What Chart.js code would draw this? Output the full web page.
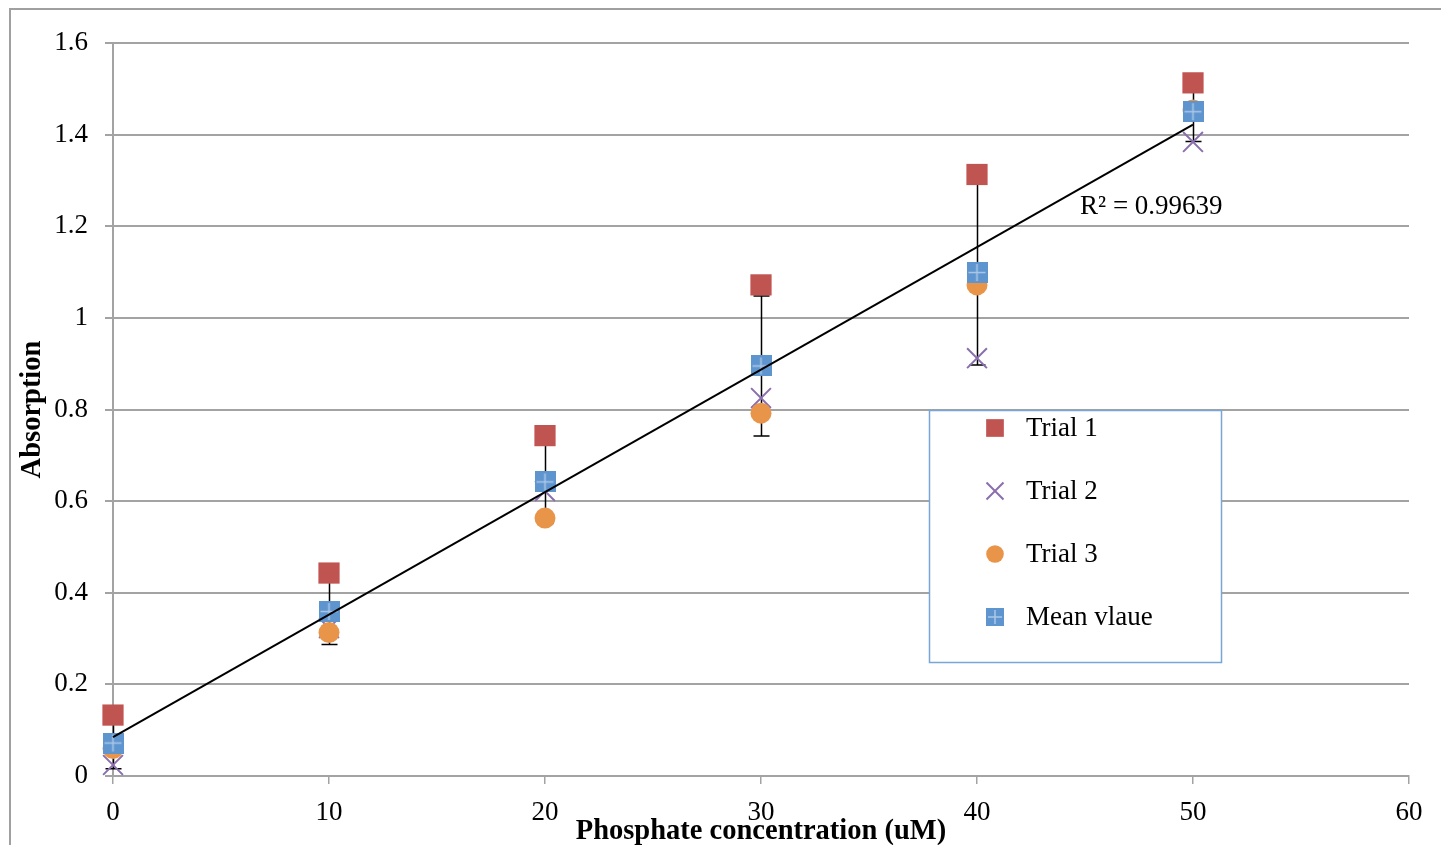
<!DOCTYPE html>
<html>
<head>
<meta charset="utf-8">
<script src="https://cdn.jsdelivr.net/npm/chart.js@4/dist/chart.umd.min.js"></script>
<style>
  html, body { margin: 0; padding: 0; background: #fff; }
  canvas { display: block; }
</style>
</head>
<body>
<canvas id="chart" width="1441" height="845"></canvas>
<script>
// values
const concentrations = [0, 10, 20, 30, 40, 50];
const trial1 = [0.133, 0.443, 0.743, 1.072, 1.313, 1.513];
const trial2 = [0.024, 0.323, 0.622, 0.825, 0.912, 1.384];
const trial3 = [0.060, 0.313, 0.563, 0.792, 1.072, 1.454];
const meanValue = [0.072, 0.359, 0.642, 0.895, 1.099, 1.450];
const meanError = [0.056, 0.072, 0.091, 0.153, 0.202, 0.065];
const trendX = [0, 50];
const trendY = [0.085, 1.422];
const xTickLabels = ["0", "10", "20", "30", "40", "50", "60"];
const yTickLabels = ["0", "0.2", "0.4", "0.6", "0.8", "1", "1.2", "1.4", "1.6"];
const seriesNames = ["Trial 1", "Trial 2", "Trial 3", "Mean vlaue"];
const r2Label = "R\u00b2 = 0.99639";

const FONT = "'Liberation Serif', 'Times New Roman', serif";
const COLORS = { red: "#bf5450", violet: "#8a6fae", orange: "#e8954a", blue: "#5e95cf", grid: "#a3a3a3" };

const pts = (xs, ys) => xs.map((x, i) => ({ x, y: ys[i] }));

// blue square with light cross, like the Excel marker
function meanMarker(size) {
  const c = document.createElement("canvas");
  c.width = size; c.height = size;
  const g = c.getContext("2d");
  g.fillStyle = COLORS.blue;
  g.fillRect(0, 0, size, size);
  g.strokeStyle = "#adc8e8";
  g.lineWidth = 1.5;
  g.beginPath();
  g.moveTo(size / 2, 2); g.lineTo(size / 2, size - 2);
  g.moveTo(2, size / 2); g.lineTo(size - 2, size / 2);
  g.stroke();
  return c;
}

const markers = [
  { pointStyle: "rect", radius: 15, legendRadius: 12.5, color: COLORS.red, borderWidth: 0 },
  { pointStyle: "crossRot", radius: 14, legendRadius: 12, color: COLORS.violet, borderWidth: 2 },
  { pointStyle: "circle", radius: 10.5, legendRadius: 8.8, color: COLORS.orange, borderWidth: 0 },
  { pointStyle: meanMarker(21), radius: 10, legendRadius: 9, color: COLORS.blue, borderWidth: 0 },
];
const legendMeanIcon = meanMarker(18);

function scatterSet(i, data, order) {
  const m = markers[i];
  return {
    label: seriesNames[i],
    data,
    order,
    clip: false,
    showLine: false,
    pointStyle: m.pointStyle,
    pointRadius: m.radius,
    pointHoverRadius: m.radius,
    backgroundColor: m.color,
    borderColor: m.color,
    pointBorderWidth: m.borderWidth,
  };
}

const frame = {
  id: "frame",
  beforeDraw(chart) {
    const ctx = chart.ctx;
    ctx.save();
    ctx.fillStyle = "#fff";
    ctx.fillRect(0, 0, chart.width, chart.height);
    ctx.strokeStyle = "#a0a0a0";
    ctx.lineWidth = 2;
    ctx.strokeRect(10, 9, chart.width + 20, chart.height + 20);
    ctx.restore();
  },
};

const errorBars = {
  id: "errorBars",
  beforeDatasetsDraw(chart) {
    const { ctx, scales: { x, y } } = chart;
    ctx.save();
    ctx.strokeStyle = "#000";
    ctx.lineWidth = 1.5;
    concentrations.forEach((c, i) => {
      const px = Math.round(x.getPixelForValue(c)) + 0.5;
      const lo = y.getPixelForValue(meanValue[i] - meanError[i]);
      const hi = y.getPixelForValue(meanValue[i] + meanError[i]);
      ctx.beginPath();
      ctx.moveTo(px, lo); ctx.lineTo(px, hi);
      ctx.moveTo(px - 8, lo); ctx.lineTo(px + 8, lo);
      ctx.moveTo(px - 8, hi); ctx.lineTo(px + 8, hi);
      ctx.stroke();
    });
    ctx.restore();
  },
};

const annotations = {
  id: "annotations",
  afterDraw(chart) {
    const { ctx, scales: { x, y }, chartArea } = chart;
    ctx.save();
    ctx.fillStyle = "#000";

    // R squared label
    ctx.font = "27px " + FONT;
    ctx.textAlign = "left";
    ctx.textBaseline = "middle";
    ctx.fillText(r2Label, x.getPixelForValue(44.77), y.getPixelForValue(1.243));

    // axis titles
    ctx.font = "bold 28.5px " + FONT;
    ctx.textAlign = "center";
    ctx.textBaseline = "alphabetic";
    ctx.fillText("Phosphate concentration (uM)", (chartArea.left + chartArea.right) / 2, 839);
    ctx.save();
    ctx.translate(33, (chartArea.top + chartArea.bottom) / 2);
    ctx.rotate(-Math.PI / 2);
    ctx.textBaseline = "middle";
    ctx.fillText("Absorption", 0, 0);
    ctx.restore();

    // legend box
    const bx = 929, by = 410, bw = 292, bh = 252;
    ctx.fillStyle = "#fff";
    ctx.fillRect(bx, by, bw, bh);
    ctx.strokeStyle = "#7aa5d8";
    ctx.lineWidth = 1.5;
    ctx.strokeRect(bx + 0.5, by + 0.5, bw, bh);
    ctx.font = "27px " + FONT;
    ctx.textAlign = "left";
    ctx.textBaseline = "middle";
    const mx = 995;
    seriesNames.forEach((name, i) => {
      const m = markers[i];
      const ry = 428 + i * 63;
      ctx.fillStyle = m.color;
      ctx.strokeStyle = m.color;
      ctx.lineWidth = m.borderWidth;
      ctx.beginPath();
      if (m.pointStyle === "rect") {
        const s = m.legendRadius * Math.SQRT1_2;
        ctx.fillRect(mx - s, ry - s, 2 * s, 2 * s);
      } else if (m.pointStyle === "circle") {
        ctx.arc(mx, ry, m.legendRadius, 0, Math.PI * 2);
        ctx.fill();
      } else if (m.pointStyle === "crossRot") {
        const s = m.legendRadius * Math.SQRT1_2;
        ctx.moveTo(mx - s, ry - s); ctx.lineTo(mx + s, ry + s);
        ctx.moveTo(mx - s, ry + s); ctx.lineTo(mx + s, ry - s);
        ctx.stroke();
      } else {
        ctx.drawImage(legendMeanIcon, mx - legendMeanIcon.width / 2, ry - legendMeanIcon.height / 2);
      }
      ctx.fillStyle = "#000";
      ctx.fillText(name, 1026, ry + 1);
    });
    ctx.restore();
  },
};

new Chart(document.getElementById("chart"), {
  type: "scatter",
  data: {
    datasets: [
      {
        type: "line",
        label: "Linear (Mean vlaue)",
        data: pts(trendX, trendY),
        order: 0,
        clip: false,
        borderColor: "#000",
        borderWidth: 2,
        pointRadius: 0,
        fill: false,
      },
      scatterSet(3, pts(concentrations, meanValue), 1),
      scatterSet(2, pts(concentrations, trial3), 2),
      scatterSet(1, pts(concentrations, trial2), 3),
      scatterSet(0, pts(concentrations, trial1), 4),
    ],
  },
  options: {
    responsive: false,
    animation: false,
    events: [],
    layout: { padding: { top: 43, right: 32, bottom: 0, left: 0 } },
    plugins: { legend: { display: false }, tooltip: { enabled: false } },
    scales: {
      x: {
        type: "linear",
        min: 0,
        max: 60,
        afterBuildTicks: (s) => { s.ticks = xTickLabels.map((t) => ({ value: Number(t) })); },
        afterFit: (s) => { s.height = 69; },
        ticks: {
          color: "#000",
          font: { family: FONT, size: 27 },
          padding: 13,
          maxRotation: 0,
          callback: (v, i) => xTickLabels[i],
        },
        grid: { drawOnChartArea: false, color: COLORS.grid, lineWidth: 1.5, tickLength: 8 },
        border: { color: COLORS.grid, width: 2 },
      },
      y: {
        type: "linear",
        min: 0,
        max: 1.6,
        afterBuildTicks: (s) => { s.ticks = yTickLabels.map((t) => ({ value: Number(t) })); },
        afterFit: (s) => { s.width = 113; },
        ticks: {
          color: "#000",
          font: { family: FONT, size: 27 },
          padding: 17,
          callback: (v, i) => yTickLabels[i],
        },
        grid: { color: COLORS.grid, lineWidth: 2, tickLength: 8 },
        border: { color: COLORS.grid, width: 2 },
      },
    },
  },
  plugins: [frame, errorBars, annotations],
});
</script>
</body>
</html>
